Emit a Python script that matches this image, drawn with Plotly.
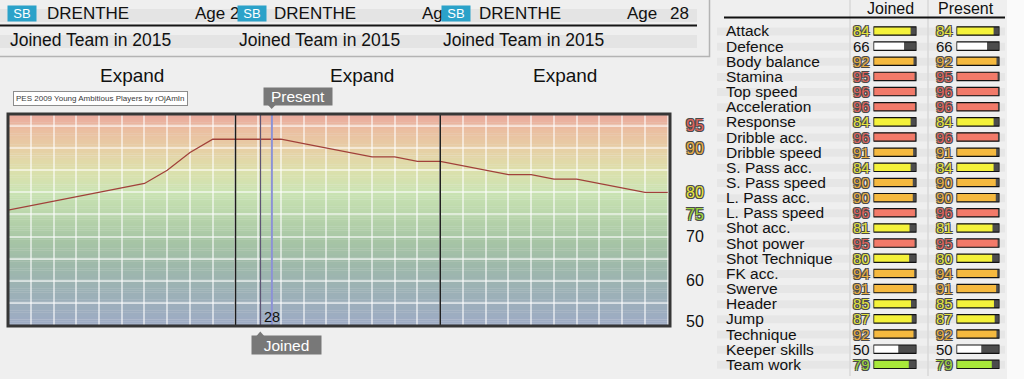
import plotly.graph_objects as go

W, H = 1024, 379
def px(x): return x / W
def py(y): return 1 - y / H

# ---------------- data ----------------
POSITION = "SB"
PLAYER = "DRENTHE"
AGE = 28
JOINED_YEAR = 2015

AGES = list(range(17, 47))
RATING = [76, 77, 78, 79, 80, 81, 82, 85, 89, 92, 92, 92, 92, 91, 90,
          89, 88, 88, 87, 87, 86, 85, 84, 84, 83, 83, 82, 81, 80, 80]
SECTION_BOUNDS = [27, 36]
EXPAND_LABELS = ["Expand", "Expand", "Expand"]
JOINED_AGE = 28.1
PRESENT_AGE = 28.6
Y_LABELS = [95, 90, 80, 75, 70, 60, 50]

ATTRS = ["Attack", "Defence", "Body balance", "Stamina", "Top speed", "Acceleration",
         "Response", "Dribble acc.", "Dribble speed", "S. Pass acc.", "S. Pass speed",
         "L. Pass acc.", "L. Pass speed", "Shot acc.", "Shot power", "Shot Technique",
         "FK acc.", "Swerve", "Header", "Jump", "Technique", "Keeper skills", "Team work"]
JOINED = [84, 66, 92, 95, 96, 96, 84, 96, 91, 84, 90, 90, 96, 81, 95, 80, 94, 91, 85, 87, 92, 50, 79]
PRESENT = [84, 66, 92, 95, 96, 96, 84, 96, 91, 84, 90, 90, 96, 81, 95, 80, 94, 91, 85, 87, 92, 50, 79]

BAR_MIN, BAR_MAX = -18, 100
FONT = "Liberation Sans, Arial, sans-serif"

def bar_color(v):
    if v >= 95: return "#f27a69"
    if v >= 90: return "#f5b93f"
    if v >= 80: return "#f4f23a"
    if v >= 75: return "#a8e83a"
    return "#ffffff"

def text_color(v):
    if v >= 95: return "#e0645c"
    if v >= 90: return "#e9ae40"
    if v >= 80: return "#e6e43c"
    if v >= 75: return "#9ed83e"
    return None

def outline(c="#4a4a4a"):
    return f"-1px -1px 0 {c}, 1px -1px 0 {c}, -1px 1px 0 {c}, 1px 1px 0 {c}"

def num_font(v, size):
    c = text_color(v)
    if c is None:
        return dict(family=FONT, size=size, color="#111111")
    return dict(family=FONT, size=size, color=c, shadow=outline())

fig = go.Figure()

# ---------------- main chart ----------------
fig.add_trace(go.Scatter(x=AGES, y=RATING, mode="lines",
                         line=dict(color="#a1413a", width=1.3),
                         hoverinfo="skip", showlegend=False, xaxis="x", yaxis="y"))

# ---------------- attribute table ----------------
n = len(ATTRS)
for vals, xa in ((JOINED, "x2"), (PRESENT, "x3")):
    fig.add_trace(go.Bar(y=ATTRS, x=[BAR_MAX - BAR_MIN] * n, base=BAR_MIN, orientation="h",
                         width=0.55, marker=dict(color="#4c4c4c", line=dict(width=0)),
                         xaxis=xa, yaxis="y2", showlegend=False, hoverinfo="skip"))
    fig.add_trace(go.Bar(y=ATTRS, x=[v - BAR_MIN for v in vals], base=BAR_MIN, orientation="h",
                         width=0.55, marker=dict(color=[bar_color(v) for v in vals], line=dict(width=0)),
                         xaxis=xa, yaxis="y2", showlegend=False, hoverinfo="skip"))
    fig.add_trace(go.Bar(y=ATTRS, x=[BAR_MAX - BAR_MIN] * n, base=BAR_MIN, orientation="h",
                         width=0.55, marker=dict(color="rgba(0,0,0,0)", line=dict(width=1.2, color="#111111")),
                         xaxis=xa, yaxis="y2", showlegend=False, hoverinfo="skip"))

shapes = []
ann = []

# background gradient of chart
stops = [(97.7, (233, 168, 157)), (94, (235, 190, 161)), (89.5, (230, 208, 165)),
         (85, (221, 224, 171)), (80, (202, 227, 179)), (75, (185, 214, 171)),
         (69, (167, 197, 165)), (63.5, (158, 185, 170)), (58, (156, 177, 181)),
         (49.8, (158, 171, 197))]
def grad(v):
    for (v1, c1), (v2, c2) in zip(stops[:-1], stops[1:]):
        if v2 <= v <= v1:
            t = (v1 - v) / (v1 - v2)
            return "rgb(%d,%d,%d)" % tuple(round(a + (b - a) * t) for a, b in zip(c1, c2))
    return "rgb(158,171,197)"
y0 = 49.8
step = 0.5
while y0 < 97.7:
    y1 = min(y0 + step, 97.7)
    shapes.append(dict(type="rect", xref="x domain", yref="y", x0=0, x1=1, y0=y0, y1=y1 + 0.05,
                       fillcolor=grad((y0 + y1) / 2), line=dict(width=0), layer="below"))
    y0 = y1

# header panel
shapes.append(dict(type="rect", xref="paper", yref="paper", x0=px(-2), x1=px(709.5), y0=py(56.5), y1=py(-2),
                   fillcolor="#efefef", line=dict(color="#b4b4b4", width=1.5), layer="below"))
for (a, b) in ((9, 22), (35, 48)):
    shapes.append(dict(type="rect", xref="paper", yref="paper", x0=px(0), x1=px(697), y0=py(b), y1=py(a),
                       fillcolor="#e4e4e4", line=dict(width=0), layer="below"))
shapes.append(dict(type="line", xref="paper", yref="paper", x0=px(0), x1=px(697), y0=py(25.5), y1=py(25.5),
                   line=dict(color="#151515", width=2)))

# right table background
shapes.append(dict(type="rect", xref="paper", yref="paper", x0=px(1007), x1=px(1025), y0=py(380), y1=py(-1),
                   fillcolor="#fafafa", line=dict(width=0), layer="below"))
for i in range(n):
    c = 31 + 15.15 * i
    shapes.append(dict(type="rect", xref="paper", yref="paper", x0=px(717), x1=px(1005), y0=py(c + 4.5), y1=py(c - 3.5),
                       fillcolor="rgba(0,0,0,0.035)", line=dict(width=0), layer="below"))
for xs in (850, 928):
    shapes.append(dict(type="line", xref="paper", yref="paper", x0=px(xs), x1=px(xs), y0=py(376), y1=py(0),
                       line=dict(color="#d9d9d9", width=1.5), layer="below"))
shapes.append(dict(type="line", xref="paper", yref="paper", x0=px(724), x1=px(1005), y0=py(17.5), y1=py(17.5),
                   line=dict(color="#111111", width=2)))

# section dividers
for b in SECTION_BOUNDS:
    shapes.append(dict(type="line", xref="x", yref="y domain", x0=b, x1=b, y0=0, y1=1,
                       line=dict(color="#1c1c1c", width=1.5)))
# joined / present lines
shapes.append(dict(type="line", xref="x", yref="y domain", x0=JOINED_AGE, x1=JOINED_AGE, y0=0, y1=1,
                   line=dict(color="#5e5574", width=1.2)))
shapes.append(dict(type="line", xref="x", yref="y domain", x0=PRESENT_AGE, x1=PRESENT_AGE, y0=0, y1=1,
                   line=dict(color="#8c92d6", width=2)))
# plot border
shapes.append(dict(type="rect", xref="x domain", yref="y domain", x0=0, x1=1, y0=0, y1=1,
                   line=dict(color="#363636", width=3), fillcolor="rgba(0,0,0,0)", layer="above"))
# pointers
def tri(p):
    return "M " + " L ".join(f"{px(a):.5f},{py(b):.5f}" for a, b in p) + " Z"
shapes.append(dict(type="path", xref="paper", yref="paper",
                   path=tri([(267.5, 104.5), (276, 104.5), (271.7, 109)]),
                   fillcolor="#787878", line=dict(width=0)))
shapes.append(dict(type="path", xref="paper", yref="paper",
                   path=tri([(256, 336.5), (264.6, 336.5), (260.3, 331.5)]),
                   fillcolor="#787878", line=dict(width=0)))

# ---------------- annotations ----------------
def txt(x, y, s, size, color="#111111", anchor="left", **kw):
    d = dict(x=px(x), y=py(y), xref="paper", yref="paper", text=s, showarrow=False,
             xanchor=anchor, yanchor="middle", font=dict(family=FONT, size=size, color=color))
    d.update(kw)
    ann.append(d)

def badge(cx):
    ann.append(dict(x=px(cx), y=py(13.5), xref="paper", yref="paper", text=POSITION, showarrow=False,
                    xanchor="center", yanchor="middle", bgcolor="#2ba2c9", width=28, height=15, borderpad=0,
                    font=dict(family=FONT, size=13, color="#ffffff")))

# header panel 1
badge(22)
txt(45, 13.5, PLAYER, 17)
txt(193, 13.5, f"Age {str(AGE)[0]}", 17)
# header panel 2
badge(252)
txt(272, 13.5, PLAYER, 17)
txt(420, 13.5, "Ag", 17)
# header panel 3
badge(456)
txt(477, 13.5, PLAYER, 17)
txt(625, 13.5, "Age", 17)
txt(668, 13.5, str(AGE), 17)
for x in (8, 237, 441):
    txt(x, 40, f"Joined Team in {JOINED_YEAR}", 17.5)

# expand labels
for x, s in zip((131.5, 361.5, 565), EXPAND_LABELS):
    txt(x, 75, s, 19, anchor="center")

# watermark
ann.append(dict(x=px(12.5), y=py(98), xref="paper", yref="paper",
                text="PES 2009 Young Ambitious Players by rOjAmIn", showarrow=False,
                xanchor="left", yanchor="middle", bgcolor="#ffffff", bordercolor="#8c8c8c",
                borderwidth=1, borderpad=2, font=dict(family=FONT, size=8, color="#3a3a3a")))

# present / joined boxes
ann.append(dict(x=px(297.5), y=py(96.7), xref="paper", yref="paper", text="Present", showarrow=False,
                xanchor="center", yanchor="middle", bgcolor="#787878", width=68, height=17, borderpad=0,
                font=dict(family=FONT, size=15.5, color="#ffffff")))
ann.append(dict(x=px(286.5), y=py(345), xref="paper", yref="paper", text="Joined", showarrow=False,
                xanchor="center", yanchor="middle", bgcolor="#787878", width=69, height=18, borderpad=0,
                font=dict(family=FONT, size=15.5, color="#ffffff")))
ann.append(dict(x=JOINED_AGE, y=py(316.5), xref="x", yref="paper", text=str(AGE), showarrow=False,
                xanchor="left", yanchor="middle", xshift=1,
                font=dict(family=FONT, size=14.5, color="#111111")))

# y labels on right of chart
for v in Y_LABELS:
    ann.append(dict(x=px(694.5), y=v, xref="paper", yref="y", text=str(v), showarrow=False,
                    xanchor="center", yanchor="middle", yshift=4 if v == 50 else 0,
                    font=num_font(v, 16)))

# table header
txt(890, 8.5, "Joined", 16, anchor="center")
txt(966, 8.5, "Present", 16, anchor="center")

# table rows
for i, name in enumerate(ATTRS):
    ann.append(dict(x=px(724), y=name, xref="paper", yref="y2", text=name, showarrow=False,
                    xanchor="left", yanchor="middle", font=dict(family=FONT, size=15.5, color="#111111")))
    ann.append(dict(x=px(872), y=name, xref="paper", yref="y2", text=str(JOINED[i]), showarrow=False,
                    xanchor="right", yanchor="middle", font=num_font(JOINED[i], 15)))
    ann.append(dict(x=px(955), y=name, xref="paper", yref="y2", text=str(PRESENT[i]), showarrow=False,
                    xanchor="right", yanchor="middle", font=num_font(PRESENT[i], 15)))

grid = "rgba(255,255,255,0.55)"
fig.update_layout(
    width=W, height=H, autosize=False,
    margin=dict(l=0, r=0, t=0, b=0, pad=0),
    paper_bgcolor="#efefef", plot_bgcolor="rgba(0,0,0,0)",
    barmode="overlay", showlegend=False,
    shapes=shapes, annotations=ann,
    xaxis=dict(domain=[px(8), px(670)], range=[17, 46.1], dtick=1, tick0=17,
               showgrid=True, gridcolor=grid, gridwidth=1.5, showticklabels=False,
               zeroline=False, showline=False, ticks="", anchor="y", fixedrange=True),
    yaxis=dict(domain=[py(326), py(114)], range=[49.8, 97.7], dtick=5, tick0=50,
               showgrid=True, gridcolor=grid, gridwidth=1.5, showticklabels=False,
               zeroline=False, showline=False, ticks="", anchor="x", fixedrange=True),
    xaxis2=dict(domain=[px(873.5), px(916.5)], range=[BAR_MIN - 0.3, BAR_MAX + 0.3], anchor="y2",
                visible=False, fixedrange=True),
    xaxis3=dict(domain=[px(956.5), px(999.5)], range=[BAR_MIN - 0.3, BAR_MAX + 0.3], anchor="y2",
                visible=False, fixedrange=True),
    yaxis2=dict(domain=[py(371.9), py(23.4)], type="category", categoryorder="array",
                categoryarray=ATTRS, range=[n - 0.5, -0.5], anchor="x2",
                visible=False, fixedrange=True),
)

fig.write_html("out.html", config={"displayModeBar": False})
